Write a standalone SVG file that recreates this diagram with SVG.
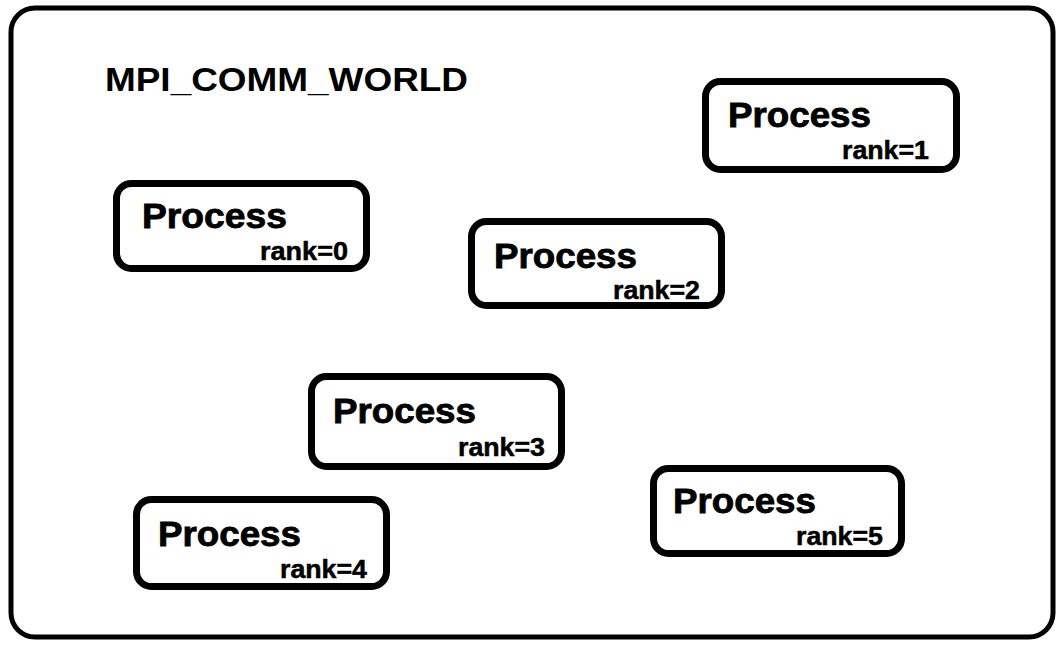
<svg xmlns="http://www.w3.org/2000/svg" width="1060" height="645" viewBox="0 0 1060 645">
  <style>
    .frame { fill: #ffffff; stroke: #000000; stroke-width: 5; }
    .proc { fill: #ffffff; stroke: #000000; stroke-width: 7; }
    .title { font-family: "Liberation Sans", Arial, sans-serif; font-weight: bold; font-size: 34px; fill: #000000; }
    .name { font-family: "Liberation Sans", Arial, sans-serif; font-weight: bold; font-size: 35px; fill: #000000; stroke: #000000; stroke-width: 0.8; }
    .rank { font-family: "Liberation Sans", Arial, sans-serif; font-weight: bold; font-size: 25px; fill: #000000; stroke: #000000; stroke-width: 0.5; text-anchor: end; }
  </style>
  <rect width="1060" height="645" fill="#ffffff"/>

  <!-- communicator boundary -->
  <rect class="frame" x="11" y="8" width="1042" height="629" rx="24" ry="24"/>
  <text class="title" x="105" y="91" textLength="363" lengthAdjust="spacingAndGlyphs">MPI_COMM_WORLD</text>

  <g id="node-rank0">
    <rect class="proc" x="116.5" y="183.5" width="250" height="85" rx="15" ry="15"/>
    <text class="name" x="142" y="228" textLength="145" lengthAdjust="spacingAndGlyphs">Process</text>
    <text class="rank" x="348" y="260" textLength="88" lengthAdjust="spacingAndGlyphs">rank=0</text>
  </g>

  <g id="node-rank1">
    <rect class="proc" x="705.5" y="81.5" width="251" height="88" rx="15" ry="15"/>
    <text class="name" x="728" y="127" textLength="143" lengthAdjust="spacingAndGlyphs">Process</text>
    <text class="rank" x="929" y="159" textLength="87" lengthAdjust="spacingAndGlyphs">rank=1</text>
  </g>

  <g id="node-rank2">
    <rect class="proc" x="471.5" y="221.5" width="250" height="84" rx="15" ry="15"/>
    <text class="name" x="494" y="268" textLength="143" lengthAdjust="spacingAndGlyphs">Process</text>
    <text class="rank" x="700" y="299" textLength="87" lengthAdjust="spacingAndGlyphs">rank=2</text>
  </g>

  <g id="node-rank3">
    <rect class="proc" x="311.5" y="376.5" width="250" height="90" rx="15" ry="15"/>
    <text class="name" x="333" y="423" textLength="143" lengthAdjust="spacingAndGlyphs">Process</text>
    <text class="rank" x="545" y="456" textLength="87" lengthAdjust="spacingAndGlyphs">rank=3</text>
  </g>

  <g id="node-rank4">
    <rect class="proc" x="136.5" y="499.5" width="250" height="87" rx="15" ry="15"/>
    <text class="name" x="158" y="546" textLength="143" lengthAdjust="spacingAndGlyphs">Process</text>
    <text class="rank" x="367" y="578" textLength="87" lengthAdjust="spacingAndGlyphs">rank=4</text>
  </g>

  <g id="node-rank5">
    <rect class="proc" x="653.5" y="468.5" width="248" height="85" rx="15" ry="15"/>
    <text class="name" x="673" y="513" textLength="143" lengthAdjust="spacingAndGlyphs">Process</text>
    <text class="rank" x="883" y="545" textLength="87" lengthAdjust="spacingAndGlyphs">rank=5</text>
  </g>

  <g id="connectors"/>
</svg>
